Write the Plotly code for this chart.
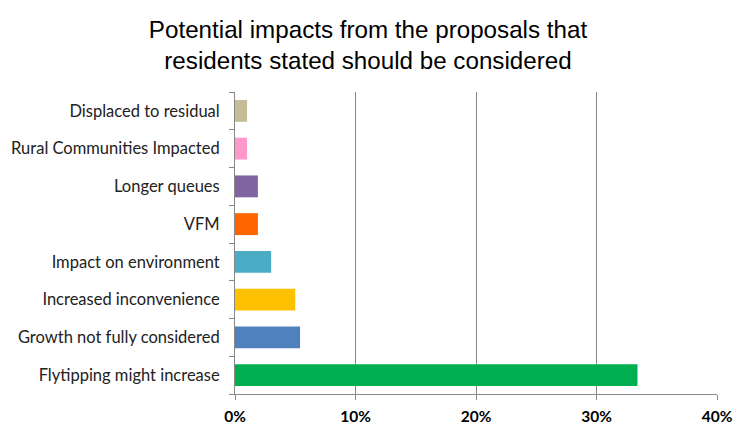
import plotly.graph_objects as go

categories = ["Flytipping might increase", "Growth not fully considered", "Increased inconvenience",
              "Impact on environment", "VFM", "Longer queues", "Rural Communities Impacted",
              "Displaced to residual"]
values = [0.334, 0.054, 0.050, 0.030, 0.019, 0.019, 0.010, 0.010]
colors = ["#00B050", "#4F81BD", "#FFC000", "#4BACC6", "#FF6600", "#8064A2", "#FF99CC", "#C4BD97"]
x_ticks = [0, 0.1, 0.2, 0.3, 0.4]
x_ticktext = ["0%", "10%", "20%", "30%", "40%"]

fig = go.Figure(go.Bar(
    x=values, y=categories, orientation="h",
    marker=dict(color=colors, line=dict(width=0)),
    width=0.58,
))

fig.update_layout(
    width=733, height=424,
    margin=dict(l=235, r=16, t=92, b=30, autoexpand=False),
    paper_bgcolor="white", plot_bgcolor="white",
    showlegend=False,
    title=dict(
        text="Potential impacts from the proposals that<br>residents stated should be considered",
        x=368 / 733, xanchor="center", xref="container", y=1 - 38 / 424, yanchor="middle", yref="container",
        font=dict(family="Liberation Sans, Arial", size=24.2, color="black"),
    ),
    xaxis=dict(
        range=[0, 0.4], tickvals=x_ticks, ticktext=x_ticktext,
        showgrid=True, gridcolor="#878787", gridwidth=1,
        showline=True, linecolor="#878787", linewidth=1,
        ticks="outside", ticklen=5, tickcolor="#878787",
        tickfont=dict(family="Lato, Liberation Sans", size=15.5, color="black", weight="bold"),
        zeroline=False, fixedrange=True, automargin=False,
        ticklabelstandoff=3,
    ),
    yaxis=dict(
        type="category", categoryorder="array", categoryarray=categories,
        tickson="boundaries", ticks="outside", ticklen=5, tickcolor="#878787",
        showline=True, linecolor="#878787", linewidth=1,
        showgrid=False, automargin=False,
        tickfont=dict(family="Lato, Liberation Sans", size=16.5, color="#222222"),
        ticklabelstandoff=11,
        range=[-0.5, 7.5],
    ),
)

fig.write_html("out.html")
